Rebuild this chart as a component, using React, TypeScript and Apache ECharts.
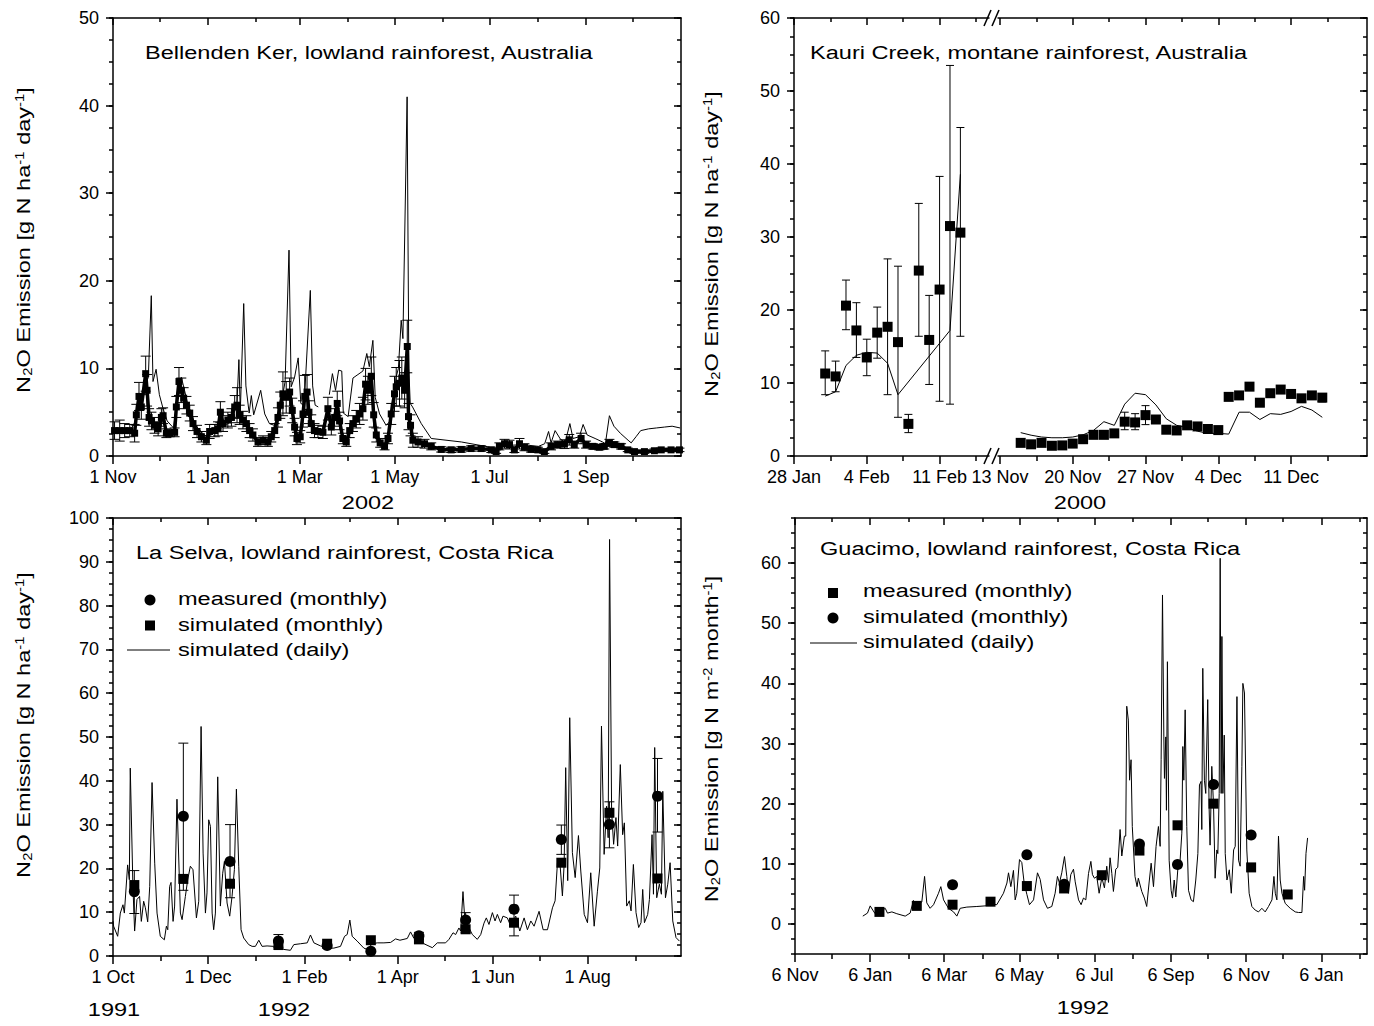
import React, { useEffect, useRef } from "react";
import * as echarts from "echarts";

const FONT = '"Liberation Sans", Arial, Helvetica, sans-serif';
const TICKFONT = FONT;
const TICKSIZE = 18;
const STRETCH = 1.24;

// ---------------- Panel A: Bellenden Ker (days since 1 Nov 2001) ----------------
const bkXTicks = [0, 61, 120, 181, 242, 304];
const bkXLabels = ["1 Nov", "1 Jan", "1 Mar", "1 May", "1 Jul", "1 Sep"];
const bkXMinor = [30, 92, 151, 212, 273, 334];
const bkYTicks = [0, 10, 20, 30, 40, 50];

const bkMeasDays = [1.0, 4.3, 7.5, 10.8, 13.9, 15.0, 16.7, 18.2, 21.0, 21.9, 23.2, 24.7, 26.7, 29.0, 31.1, 32.2, 34.3, 36.4, 39.6, 40.7, 42.4, 43.9, 45.4, 47.2, 49.3, 51.4, 54.0, 56.8, 60.0, 62.1, 65.4, 67.5, 69.0, 70.7, 73.8, 76.1, 78.2, 79.7, 81.4, 83.5, 85.7, 87.8, 89.9, 93.2, 96.4, 99.5, 101.7, 103.9, 106.0, 107.5, 109.2, 111.3, 113.5, 115.2, 116.7, 118.2, 120.3, 122.1, 123.2, 124.7, 125.9, 127.4, 129.5, 131.7, 134.9, 138.1, 140.3, 142.4, 144.1, 145.6, 147.7, 149.9, 152.1, 154.2, 156.3, 158.5, 160.6, 162.3, 163.8, 166.0, 167.5, 169.2, 171.7, 174.5, 176.7, 178.8, 180.9, 182.0, 184.1, 185.6, 187.4, 189.1, 189.9, 191.2, 192.7, 196.0, 200.2, 204.5, 210.9, 217.3, 223.8, 230.1, 236.6, 243.1, 246.2, 248.3, 251.6, 254.8, 257.9, 261.2, 264.4, 268.6, 273.0, 277.2, 281.5, 285.7, 290.1, 293.2, 296.4, 300.8, 304.0, 308.3, 312.5, 315.7, 319.0, 322.2, 326.5, 330.8, 335.1, 341.5, 347.9, 352.3, 358.6, 364.0];
const bkMeasVals = [2.9, 2.9, 2.9, 2.9, 2.6, 4.7, 6.8, 5.6, 9.4, 7.5, 4.4, 4.0, 3.5, 3.1, 4.4, 4.6, 2.6, 2.6, 2.7, 5.6, 8.5, 7.5, 6.6, 5.8, 4.9, 3.7, 2.8, 2.2, 1.8, 2.8, 2.9, 3.1, 5.0, 3.7, 4.1, 4.4, 5.6, 5.8, 4.7, 4.1, 3.7, 2.9, 2.4, 1.6, 1.8, 1.6, 2.2, 2.9, 4.4, 5.8, 7.1, 6.7, 7.3, 5.2, 3.3, 2.0, 2.2, 4.8, 6.8, 7.3, 5.0, 3.7, 2.9, 2.8, 2.7, 5.4, 3.3, 4.4, 6.0, 4.0, 2.0, 1.6, 2.9, 3.7, 4.2, 4.8, 5.4, 8.2, 7.5, 9.1, 4.7, 2.4, 1.5, 1.1, 2.0, 4.8, 7.1, 7.9, 8.3, 8.9, 7.5, 12.5, 4.5, 3.5, 1.8, 1.6, 1.4, 1.1, 0.75, 0.7, 0.75, 0.85, 0.85, 0.7, 0.5, 1.1, 1.4, 1.3, 0.7, 1.4, 1.0, 0.75, 0.7, 0.5, 1.1, 1.3, 1.35, 1.85, 1.3, 2.0, 1.3, 1.1, 1.0, 1.1, 1.5, 1.3, 1.1, 0.7, 0.5, 0.5, 0.6, 0.7, 0.7, 0.7];
const bkMeasErr = [1.0, 1.2, 0.8, 0.7, 1.0, 1.2, 1.6, 1.4, 2.0, 1.8, 1.0, 1.0, 0.9, 0.8, 1.0, 0.9, 0.5, 0.4, 0.5, 1.2, 1.6, 1.4, 1.2, 1.0, 0.9, 0.8, 0.7, 0.6, 0.5, 0.8, 0.7, 0.8, 1.2, 0.9, 0.9, 1.0, 1.3, 2.0, 1.1, 1.0, 0.9, 0.8, 0.7, 0.5, 0.5, 0.5, 0.6, 0.8, 1.1, 1.5, 2.5, 1.8, 1.6, 1.4, 1.0, 0.7, 0.7, 1.5, 2.4, 2.0, 1.3, 1.0, 0.8, 0.7, 0.7, 1.3, 0.9, 1.0, 1.4, 1.0, 0.6, 0.5, 0.8, 0.9, 1.0, 1.2, 1.3, 1.8, 1.6, 2.2, 1.4, 0.8, 0.5, 0.4, 0.6, 1.2, 2.0, 2.2, 2.6, 2.4, 2.0, 3.0, 1.5, 1.2, 0.8, 0.6, 0.5, 0.4, 0.3, 0.3, 0.3, 0.3, 0.3, 0.3, 0.2, 0.4, 0.5, 0.5, 0.3, 0.6, 0.4, 0.3, 0.3, 0.2, 0.4, 0.4, 0.5, 0.6, 0.4, 0.6, 0.4, 0.3, 0.3, 0.3, 0.4, 0.3, 0.3, 0.2, 0.2, 0.2, 0.2, 0.2, 0.2, 0.2];
const bkSimDaily: [number, number | null][] = [
  [0.5, 2.6], [10.6, 2.8], [14.6, 4.0], [17.6, 6.5], [20.7, 8.0], [22.7, 9.0], [24.6, 18.3], [25.7, 8.5], [27.7, 9.9], [29.8, 7.0],
  [32.2, 5.4], [34.8, 4.0], [38.9, 3.2], [41.9, 7.5], [43.9, 9.0], [48.0, 6.0], [53.0, 3.5], [59.1, 2.3], [66.2, 2.8], [73.2, 3.6],
  [79.3, 4.5], [80.9, 11.0], [81.8, 5.0], [84.0, 17.4], [85.4, 8.0], [87.5, 4.9], [88.9, 6.9], [90.4, 4.7], [94.9, 7.5], [97.5, 4.8],
  [100.5, 3.7], [103.6, 3.5], [107.6, 5.5], [110.6, 8.5], [113.1, 23.5], [114.5, 7.9], [116.7, 9.0], [119.0, 11.2], [120.7, 6.0], [122.8, 5.8],
  [126.8, 18.9], [128.3, 8.0], [129.9, 5.8], [131.9, 5.6], [135.0, null], [139.0, 7.0], [141.0, 9.4], [143.0, 7.5], [145.0, 9.8], [147.0, 9.7],
  [148.0, 4.9], [151.1, 4.5], [154.2, 8.9], [157.4, 9.3], [160.6, 9.7], [163.1, 11.7], [164.7, 10.2], [167.0, 13.2], [168.5, 6.7], [171.3, 4.8],
  [175.5, 3.5], [178.8, 4.1], [181.9, 9.0], [183.4, 10.0], [185.2, 15.5], [186.3, 13.4], [189.0, 41.0], [190.1, 10.0], [191.0, 6.0], [192.5, 5.6],
  [198.1, 3.7], [204.5, 2.0], [223.9, 1.6], [241.0, 1.05], [245.1, 0.85], [253.2, 1.2], [263.3, 1.3], [273.4, 1.1], [277.4, 1.4], [279.9, 2.8],
  [281.5, 1.5], [284.1, 2.9], [287.6, 1.9], [290.6, 1.6], [293.6, 3.7], [295.6, 2.0], [299.7, 2.2], [302.1, 3.6], [304.7, 2.4], [309.8, 2.0],
  [314.6, 1.6], [316.4, 1.4], [319.0, 4.6], [321.9, 3.4], [326.0, 2.6], [331.0, 1.8], [333.0, 1.5], [336.1, 2.2], [339.1, 2.9], [344.2, 3.1],
  [349.2, 3.2], [354.3, 3.3], [359.3, 3.4], [364.4, 3.2],
];

// ---------------- Panel B: Kauri Creek (broken axis) ----------------
const KC_BREAK = 19.8; // axis position of 13 Nov
const kcXTicksJan = [0, 7, 14]; // days since 28 Jan
const kcXLabelsJan = ["28 Jan", "4 Feb", "11 Feb"];
const kcXMinorJan = [3.5, 10.5, 17.5];
const kcXTicksNov = [0, 7, 14, 21, 28]; // days since 13 Nov
const kcXLabelsNov = ["13 Nov", "20 Nov", "27 Nov", "4 Dec", "11 Dec"];
const kcXMinorNov = [3.5, 10.5, 17.5, 24.5, 31.5];
const kcYTicks = [0, 10, 20, 30, 40, 50, 60];

const kcJanDays = [3, 4, 5, 6, 7, 8, 9, 10, 11, 12, 13, 14, 15, 16];
const kcJanMeas = [11.3, 10.9, 20.6, 17.2, 13.5, 16.9, 17.7, 15.6, 4.4, 25.4, 15.9, 22.8, 31.5, 30.6];
const kcJanLo = [8.4, 8.8, 17.3, 13.5, 11.0, 13.4, 8.4, 5.3, 3.2, 16.4, 9.8, 7.5, 7.1, 16.4];
const kcJanHi = [14.4, 13.0, 24.1, 21.0, 16.0, 20.4, 27.0, 26.0, 5.7, 34.6, 22.0, 38.3, 53.5, 45.0];
const kcJanSim: [number, number][] = [[3, 8.2], [4, 8.8], [5, 12.4], [6, 13.8], [7, 14.2], [8, 14.1], [9, 12.7], [10, 8.4], [15, 17.2], [16, 38.6]];

const kcNovDays = [2, 3, 4, 5, 6, 7, 8, 9, 10, 11, 12, 13, 14, 15, 16, 17, 18, 19, 20, 21, 22, 23, 24, 25, 26, 27, 28, 29, 30, 31];
const kcNovMeas = [1.8, 1.6, 1.8, 1.4, 1.45, 1.7, 2.3, 2.9, 2.9, 3.1, 4.7, 4.6, 5.6, 5.0, 3.6, 3.5, 4.2, 4.05, 3.7, 3.55, 8.1, 8.3, 9.5, 7.3, 8.6, 9.1, 8.5, 7.9, 8.3, 8.0];
const kcNovLo = [null, null, null, null, null, null, null, null, null, null, 3.6, 3.6, 4.3, null, null, null, null, null, null, null, null, null, null, 6.8, null, null, null, null, null, 7.4];
const kcNovHi = [null, null, null, null, null, null, null, null, null, null, 6.0, 5.8, 6.9, null, null, null, null, null, null, null, null, null, null, 7.8, null, null, null, null, null, 8.5];
const kcNovSim = [3.2, 2.85, 2.6, 2.5, 2.5, 2.6, 2.9, 3.5, 4.7, 4.2, 7.1, 8.6, 8.4, 7.0, 5.1, 4.2, 3.9, 3.4, 3.1, 3.1, 3.0, 6.0, 6.0, 5.0, 5.8, 5.7, 6.1, 6.8, 6.3, 5.3];

// ---------------- Panel C: La Selva (days since 1 Oct 1991) ----------------
const lsXTicks = [0, 61, 123, 183, 244, 305];
const lsXLabels = ["1 Oct", "1 Dec", "1 Feb", "1 Apr", "1 Jun", "1 Aug"];
const lsXMinor = [31, 92, 152, 213, 274, 336];
const lsYTicks = [0, 10, 20, 30, 40, 50, 60, 70, 80, 90, 100];
const lsDaily: [number, number][] = [
  [0, 8.0], [0.4, 6.8], [3, 4.5], [4.7, 9.8], [6.4, 11.7], [7.3, 9.8], [9.4, 20.8], [10.5, 17.4], [11.1, 42.9], [12.8, 15.9],
  [13.9, 5.7], [15.4, 12.9], [17.1, 13.6], [18.2, 7.9], [19.7, 12.5], [20.8, 11.0], [22.3, 7.8], [23.6, 15.9], [25.1, 39.6], [26.8, 21.2],
  [28.3, 9.8], [30.4, 4.5], [33, 3.7], [34.3, 6.8], [35.2, 6.0], [36.4, 15.9], [37.3, 16.8], [38.6, 7.9], [39.6, 11.4], [41.1, 35.8],
  [43.3, 9.8], [44.4, 8.3], [46.5, 13.6], [48, 17.4], [49.7, 20.5], [51.4, 19.7], [53.6, 8.7], [55.1, 12.5], [56.6, 52.4], [57.9, 23.5],
  [59.4, 9.8], [60.4, 14.4], [61.5, 31.1], [62.6, 29.6], [63.7, 9.8], [64.7, 6.0], [65.8, 9.8], [67.3, 40.9], [69, 11.4], [70.5, 18.9],
  [71.6, 21.6], [73.3, 12.1], [75, 9.1], [76.5, 13.6], [78, 19.7], [79.3, 38.1], [80.8, 20.5], [82.3, 6.0], [84, 4.1], [87.2, 2.6],
  [89.4, 2.2], [91.5, 2.2], [93.7, 3.6], [95.8, 2.2], [99, 2.3], [103.3, 2.2], [106.5, 2.2], [109.8, 1.5], [114, 1.3], [116.2, 2.6],
  [120.5, 2.8], [124.8, 3.0], [126.9, 4.8], [129.1, 3.0], [133.4, 2.3], [137.7, 1.8], [141.9, 1.8], [146.2, 2.2], [148.8, 4.5], [150.5, 4.9],
  [152.2, 8.2], [153.7, 4.5], [156.9, 3.4], [161.2, 1.8], [163.4, 1.5], [166.6, 2.8], [169.8, 3.0], [174.1, 3.0], [178.4, 3.1], [181.6, 3.9],
  [184.4, 3.6], [189.1, 4.0], [191.2, 5.5], [193.4, 4.0], [196.6, 4.2], [199.8, 2.8], [205.2, 1.9], [208.4, 3.0], [213.7, 3.0], [215.9, 3.8],
  [218.5, 5.3], [220.2, 4.9], [222.3, 6.4], [223.4, 5.7], [224.9, 14.7], [226, 8.7], [227.7, 7.2], [230.9, 4.9], [234.1, 3.8], [236.3, 4.9],
  [238.4, 7.5], [239.9, 8.7], [241.6, 7.2], [243.8, 9.9], [245.5, 8.0], [247, 9.5], [249.1, 7.6], [250.6, 9.1], [253.4, 8.7], [255.6, 6.8],
  [258.8, 9.1], [261.4, 5.7], [264.2, 8.7], [266.3, 6.0], [268.5, 8.0], [270.6, 6.8], [273.8, 10.2], [276.4, 6.0], [279.2, 6.0], [282.4, 11.0],
  [284.1, 12.6], [285.6, 21.3], [287.1, 21.7], [288.8, 13.7], [289.9, 20.9], [290.9, 43.0], [292.2, 17.2], [293.5, 54.4], [295.2, 23.6], [297, 17.9],
  [299.1, 27.5], [300.6, 19.4], [302.8, 9.5], [304.9, 7.6], [307, 19.0], [309.2, 6.8], [311.3, 14.8], [312.8, 20.1], [313.9, 52.5], [315.6, 23.2],
  [317.2, 34.2], [318.2, 27.0], [319.1, 95.1], [320.4, 33.1], [321.7, 25.5], [323.2, 31.6], [324.3, 25.1], [326, 43.7], [327.5, 27.7], [328.6, 30.4],
  [330.1, 11.4], [331.8, 12.6], [332.9, 10.3], [334.4, 20.9], [336.1, 9.9], [337.8, 6.5], [339.3, 7.6], [340.4, 15.2], [341.5, 7.6], [343.6, 9.5],
  [344.7, 12.9], [346.4, 27.7], [347.3, 14.1], [348.1, 47.6], [349.4, 13.3], [351.1, 16.4], [352.4, 14.1], [353.3, 37.6], [355, 13.3], [356.5, 16.4],
  [358, 21.3], [359.7, 8.0], [361.8, 4.2], [364, 3.4],
];
const lsMonthDays = [13.7, 45.2, 75.2, 106.3, 137.6, 165.7, 196.6, 226.6, 257.7, 288.1, 319.0, 349.9];
const lsMeasured = [14.7, 31.9, 21.6, 3.4, 2.4, 1.1, 4.6, 8.2, 10.7, 26.6, 30.0, 36.5];
const lsMeasLo = [9.7, 15.0, 13.3, 2.0, null, null, 3.8, 5.3, 4.6, 23.2, 24.7, 28.3];
const lsMeasHi = [19.5, 48.6, 30.0, 4.9, null, null, 5.4, 9.9, 13.9, 29.9, 35.2, 45.1];
const lsSimMonthly = [16.2, 17.6, 16.5, 2.5, 2.8, 3.6, 3.8, 6.1, 7.6, 21.3, 32.7, 17.7];

// ---------------- Panel D: Guacimo (days since 6 Nov 1991) ----------------
const guXTicks = [0, 61, 121, 182, 243, 305, 366, 427];
const guXLabels = ["6 Nov", "6 Jan", "6 Mar", "6 May", "6 Jul", "6 Sep", "6 Nov", "6 Jan"];
const guXMinor = [30, 92, 152, 213, 274, 335, 396, 458];
const guYTicks = [0, 10, 20, 30, 40, 50, 60];
const guDaily: [number, number][] = [
  [55.0, 1.3], [58.8, 1.8], [61.0, 3.0], [63.1, 2.3], [65.0, 1.7], [69.1, 2.0], [73.2, 2.6], [75.0, 1.8], [78.6, 2.0], [82.6, 1.7],
  [89.4, 1.3], [93.4, 1.8], [96.1, 3.9], [98.8, 2.8], [102.9, 3.7], [105.1, 7.9], [106.9, 3.5], [109.6, 2.6], [112.4, 3.2], [116.4, 5.1],
  [118.3, 6.2], [120.5, 4.0], [124.5, 2.6], [128.6, 2.0], [131.3, 1.3], [134.0, 2.6], [139.4, 2.8], [147.5, 2.9], [154.3, 3.0], [158.3, 3.3],
  [163.7, 3.2], [169.1, 5.1], [171.9, 6.8], [173.2, 8.5], [175.1, 6.2], [177.2, 8.9], [178.6, 4.0], [179.9, 5.1], [182.1, 10.7], [184.0, 10.2],
  [185.9, 6.8], [188.1, 4.9], [190.2, 3.2], [193.5, 4.0], [196.7, 8.5], [198.9, 7.4], [201.6, 4.0], [204.8, 2.6], [208.3, 2.9], [211.0, 5.1],
  [212.9, 7.9], [214.5, 6.8], [216.4, 8.5], [218.6, 11.2], [220.5, 7.9], [221.8, 5.1], [223.7, 8.2], [225.9, 9.1], [227.3, 7.0], [230, 4.0],
  [232.1, 3.2], [234, 4.3], [235.9, 4.0], [238.1, 8.4], [240, 10.4], [241.3, 8.2], [242.9, 7.6], [244.8, 7.9], [246.7, 5.1], [248.9, 7.7],
  [251, 6.0], [252.9, 9.6], [254.3, 6.9], [255.6, 11.0], [257, 8.4], [258.3, 5.4], [260.2, 9.1], [261.8, 9.4], [263.7, 15.7], [265.1, 11.3],
  [267.2, 14.6], [268.3, 14.6], [269.1, 36.2], [270.4, 33.9], [271.4, 23.9], [272.6, 27.3], [273.6, 16.2], [275.8, 7.9], [277.5, 6.2], [278.5, 7.6],
  [281.3, 5.4], [283.4, 4.3], [285.3, 2.9], [287.2, 6.8], [288.9, 10.1], [290.8, 6.2], [292.9, 12.9], [294.8, 16.2], [296.2, 12.9], [297, 27.3],
  [298.1, 54.7], [299.2, 31.1], [299.7, 24.2], [300.8, 31.1], [301.3, 18.9], [302.1, 43.6], [303.5, 10.6], [305.1, 5.6], [306.2, 4.3], [307.6, 7.3],
  [308.9, 4.5], [310.5, 9.0], [312.4, 10.6], [313.8, 15.1], [314.6, 29.5], [315.4, 23.9], [316.5, 35.6], [317.8, 16.2], [319.2, 5.6], [321.3, 4.0],
  [323.2, 3.7], [325.1, 7.3], [326.8, 11.7], [328.1, 23.1], [329.4, 23.7], [330, 15.7], [330.8, 42.5], [332.1, 23.9], [333.2, 21.7], [334.8, 37.3],
  [335.9, 19.5], [336.7, 13.1], [338.1, 26.2], [339.5, 19.8], [340.8, 7.6], [342.2, 12.3], [343, 11.7], [344.1, 21.7], [344.9, 60.8], [345.7, 21.7],
  [346.3, 47.8], [347.1, 21.7], [348.2, 31.4], [349, 11.7], [350.4, 7.3], [352.3, 9.0], [353.9, 5.1], [355.8, 12.3], [357.1, 12.9], [358.5, 37.8],
  [359.8, 10.6], [361.1, 9.6], [362.5, 26.2], [363.3, 40.0], [364.6, 38.4], [366.5, 12.3], [368.4, 5.1], [370.6, 2.9], [373.3, 2.3], [376, 2.0],
  [378.7, 2.6], [381.4, 2.0], [384.1, 2.9], [386.9, 4.0], [388.5, 7.9], [389.6, 5.1], [390.9, 4.0], [392.2, 14.6], [393.6, 7.3], [395, 5.1],
  [397.7, 3.4], [401.7, 2.6], [405.8, 2.0], [408.5, 1.9], [411.2, 1.9], [412.6, 7.9], [413.4, 5.6], [414.5, 11.7], [415.8, 14.3],
];
const guMonthDays = [68.5, 98.8, 127.8, 158.6, 188.1, 218.3, 248.9, 279.4, 310.3, 339.5, 370.0, 399.7];
const guMeasured = [2.0, 3.0, 3.2, 3.7, 6.3, 5.9, 8.1, 12.2, 16.4, 20.0, 9.4, 4.9];
const guSimMonthly = [null, null, 6.5, null, 11.5, 6.6, null, 13.3, 9.9, 23.2, 14.8, null];

// ---------------- helpers ----------------
const steps = (a: number, b: number, s: number) => {
  const out: number[] = [];
  for (let v = a; v <= b + 1e-9; v += s) out.push(Math.round(v * 1000) / 1000);
  return out;
};
const BLACK = "#000";
const AXW = 1.5;

function labelFor(ticks: number[], labels: string[]) {
  return (v: number) => {
    let best = -1, bd = 1e9;
    ticks.forEach((t, i) => { const d = Math.abs(t - v); if (d < bd) { bd = d; best = i; } });
    return bd < 0.01 ? labels[best] : "";
  };
}

function xAxesFor(g: number, min: number, max: number, major: number[], minor: number[], labels: string[]) {
  const base = { gridIndex: g, type: "value", min, max, splitLine: { show: false }, minorTick: { show: false } };
  return [
    { ...base, position: "bottom",
      axisLine: { show: true, onZero: false, lineStyle: { color: BLACK, width: AXW } },
      axisTick: { show: true, inside: false, length: 8, customValues: major, lineStyle: { color: BLACK, width: AXW } },
      axisLabel: { show: true, customValues: major, margin: 12, fontSize: TICKSIZE, fontFamily: TICKFONT, color: BLACK, formatter: labelFor(major, labels) } },
    { ...base, position: "bottom",
      axisLine: { show: false, onZero: false },
      axisTick: { show: true, inside: false, length: 5, customValues: minor, lineStyle: { color: BLACK, width: AXW } },
      axisLabel: { show: false } },
    { ...base, position: "top",
      axisLine: { show: true, onZero: false, lineStyle: { color: BLACK, width: AXW } },
      axisTick: { show: true, inside: true, length: 7, customValues: major, lineStyle: { color: BLACK, width: AXW } },
      axisLabel: { show: false } },
    { ...base, position: "top",
      axisLine: { show: false, onZero: false },
      axisTick: { show: true, inside: true, length: 4, customValues: minor, lineStyle: { color: BLACK, width: AXW } },
      axisLabel: { show: false } },
  ];
}

function yAxesFor(g: number, min: number, max: number, major: number[], minor: number[]) {
  const base = { gridIndex: g, type: "value", min, max, splitLine: { show: false }, minorTick: { show: false } };
  const lbl = (v: number) => String(Math.round(v));
  return [
    { ...base, position: "left",
      axisLine: { show: true, onZero: false, lineStyle: { color: BLACK, width: AXW } },
      axisTick: { show: true, inside: false, length: 7, customValues: major, lineStyle: { color: BLACK, width: AXW } },
      axisLabel: { show: true, customValues: major, margin: 14, fontSize: TICKSIZE, fontFamily: TICKFONT, color: BLACK, formatter: lbl } },
    { ...base, position: "left",
      axisLine: { show: false, onZero: false },
      axisTick: { show: true, inside: false, length: 4, customValues: minor, lineStyle: { color: BLACK, width: AXW } },
      axisLabel: { show: false } },
    { ...base, position: "right",
      axisLine: { show: true, onZero: false, lineStyle: { color: BLACK, width: AXW } },
      axisTick: { show: true, inside: true, length: 7, customValues: major, lineStyle: { color: BLACK, width: AXW } },
      axisLabel: { show: false } },
    { ...base, position: "right",
      axisLine: { show: false, onZero: false },
      axisTick: { show: true, inside: true, length: 4, customValues: minor, lineStyle: { color: BLACK, width: AXW } },
      axisLabel: { show: false } },
  ];
}

function errorBars(ai: number, data: number[][], cap: number) {
  return {
    type: "custom", xAxisIndex: ai, yAxisIndex: ai, silent: true, z: 3,
    data, encode: { x: 0, y: [1, 2] },
    renderItem: (_p: any, api: any) => {
      const x = api.value(0);
      const a = api.coord([x, api.value(1)]);
      const b = api.coord([x, api.value(2)]);
      const h = cap / 2;
      const st = { stroke: BLACK, lineWidth: 1 };
      return {
        type: "group",
        children: [
          { type: "line", shape: { x1: a[0], y1: a[1], x2: b[0], y2: b[1] }, style: st },
          { type: "line", shape: { x1: a[0] - h, y1: a[1], x2: a[0] + h, y2: a[1] }, style: st },
          { type: "line", shape: { x1: b[0] - h, y1: b[1], x2: b[0] + h, y2: b[1] }, style: st },
        ],
      };
    },
  };
}

const lineSeries = (ai: number, data: any[], name: string) => ({
  type: "line", name, xAxisIndex: ai, yAxisIndex: ai, data, showSymbol: false, symbol: "none",
  lineStyle: { color: BLACK, width: 1 }, itemStyle: { color: BLACK }, connectNulls: false, z: 2,
});
const scatterSeries = (ai: number, data: any[], name: string, symbol: string, size: number) => ({
  type: "scatter", name, xAxisIndex: ai, yAxisIndex: ai, data, symbol, symbolSize: size,
  itemStyle: { color: BLACK, opacity: 1 }, z: 4,
});

const txt = (text: string, x: number, y: number, align = "left") => ({
  type: "text", x, y, scaleX: STRETCH, z: 100,
  style: { text, fill: BLACK, fontSize: 19, fontFamily: FONT, align, verticalAlign: "middle" },
});
const RICH = {
  r: { fontSize: 19, fontFamily: FONT, fill: BLACK },
  s: { fontSize: 12, fontFamily: FONT, fill: BLACK, verticalAlign: "bottom" },
  p: { fontSize: 12, fontFamily: FONT, fill: BLACK, verticalAlign: "top" },
};
const yName = (text: string, x: number, y: number) => ({
  type: "text", x, y, rotation: Math.PI / 2, scaleX: STRETCH, z: 100,
  style: { text, rich: RICH, fill: BLACK, fontSize: 19, fontFamily: FONT, align: "center", verticalAlign: "middle" },
});
const gl = (x1: number, y1: number, x2: number, y2: number, w = 1.5) => ({
  type: "line", z: 101, shape: { x1, y1, x2, y2 }, style: { stroke: BLACK, lineWidth: w },
});

export default function App() {
  const ref = useRef<HTMLDivElement>(null);
  useEffect(() => {
    if (!ref.current) return;
    const chart = echarts.init(ref.current, null, { renderer: "svg" });

    const grids = [
      { left: 113, top: 18, width: 568, height: 438 },
      { left: 794, top: 18, width: 573, height: 438 },
      { left: 113, top: 518, width: 568, height: 438 },
      { left: 795, top: 518, width: 572, height: 436 },
    ];

    const kcMajor = [...kcXTicksJan, ...kcXTicksNov.map((d) => d + KC_BREAK)];
    const kcMinor = [...kcXMinorJan, ...kcXMinorNov.map((d) => d + KC_BREAK)];
    const kcLabels = [...kcXLabelsJan, ...kcXLabelsNov];

    const xAxis = [
      ...xAxesFor(0, 0, 365, bkXTicks, bkXMinor, bkXLabels),
      ...xAxesFor(1, 0, 55.1, kcMajor, kcMinor, kcLabels),
      ...xAxesFor(2, 0, 365, lsXTicks, lsXMinor, lsXLabels),
      ...xAxesFor(3, 0, 464, guXTicks, guXMinor, guXLabels),
    ];
    const yAxis = [
      ...yAxesFor(0, 0, 50, bkYTicks, steps(0, 50, 2.5)),
      ...yAxesFor(1, 0, 60, kcYTicks, steps(0, 60, 2.5)),
      ...yAxesFor(2, 0, 100, lsYTicks, steps(0, 100, 2.5)),
      ...yAxesFor(3, -5, 67.5, guYTicks, steps(-5, 67.5, 2.5)),
    ];

    const A = 0, B = 4, C = 8, D = 12;
    const series: any[] = [
      // Panel A
      lineSeries(A, bkSimDaily.map(([d, v]) => [d, v === null ? "-" : v]), "simulated (daily)"),
      errorBars(A, bkMeasDays.map((d, i) => [d, bkMeasVals[i] - bkMeasErr[i], bkMeasVals[i] + bkMeasErr[i]]), 10),
      { type: "line", name: "measured", xAxisIndex: A, yAxisIndex: A, data: bkMeasDays.map((d, i) => [d, bkMeasVals[i]]),
        symbol: "rect", symbolSize: 7, showSymbol: true, lineStyle: { color: BLACK, width: 3.5 }, itemStyle: { color: BLACK }, z: 4 },
      // Panel B
      lineSeries(B, kcJanSim, "simulated"),
      lineSeries(B, kcNovDays.map((d, i) => [d + KC_BREAK, kcNovSim[i]]), "simulated"),
      errorBars(B, kcJanDays.map((d, i) => [d, kcJanLo[i], kcJanHi[i]]), 8),
      errorBars(B, kcNovDays.map((d, i) => [d + KC_BREAK, kcNovLo[i], kcNovHi[i]]).filter((r) => r[1] !== null), 8),
      scatterSeries(B, kcJanDays.map((d, i) => [d, kcJanMeas[i]]), "measured", "rect", 10),
      scatterSeries(B, kcNovDays.map((d, i) => [d + KC_BREAK, kcNovMeas[i]]), "measured", "rect", 10),
      // Panel C
      lineSeries(C, lsDaily, "simulated (daily)"),
      errorBars(C, lsMonthDays.map((d, i) => [d, lsMeasLo[i], lsMeasHi[i]]).filter((r) => r[1] !== null), 10),
      scatterSeries(C, lsMonthDays.map((d, i) => [d, lsMeasured[i]]), "measured (monthly)", "circle", 11),
      scatterSeries(C, lsMonthDays.map((d, i) => [d, lsSimMonthly[i]]), "simulated (monthly)", "rect", 10),
      // Panel D
      lineSeries(D, guDaily, "simulated (daily)"),
      scatterSeries(D, guMonthDays.map((d, i) => [d, guMeasured[i]]), "measured (monthly)", "rect", 10),
      scatterSeries(D, guMonthDays.map((d, i) => [d, guSimMonthly[i]]).filter((r) => r[1] !== null), "simulated (monthly)", "circle", 11),
    ];

    const graphic: any[] = [
      txt("Bellenden Ker, lowland rainforest, Australia", 145, 53),
      txt("Kauri Creek, montane rainforest, Australia", 810, 53),
      txt("La Selva, lowland rainforest, Costa Rica", 136, 553),
      txt("Guacimo, lowland rainforest, Costa Rica", 820, 549),
      txt("2002", 368, 503, "center"),
      txt("2000", 1080, 503, "center"),
      txt("1991", 114, 1010, "center"),
      txt("1992", 284, 1010, "center"),
      txt("1992", 1083, 1008, "center"),
      yName("{r|N}{s|2}{r|O Emission [g N ha}{p|-1}{r| day}{p|-1}{r|]}", 24, 240),
      yName("{r|N}{s|2}{r|O Emission [g N ha}{p|-1}{r| day}{p|-1}{r|]}", 712, 244),
      yName("{r|N}{s|2}{r|O Emission [g N ha}{p|-1}{r| day}{p|-1}{r|]}", 24, 725),
      yName("{r|N}{s|2}{r|O Emission [g N m}{p|-2}{r| month}{p|-1}{r|]}", 712, 739),
      // legend C
      { type: "circle", z: 100, shape: { cx: 150, cy: 600, r: 5.5 }, style: { fill: BLACK } },
      { type: "rect", z: 100, shape: { x: 145, y: 620.5, width: 10, height: 10 }, style: { fill: BLACK } },
      gl(127, 650, 170, 650, 1),
      txt("measured (monthly)", 178, 599),
      txt("simulated (monthly)", 178, 624.5),
      txt("simulated (daily)", 178, 649.5),
      // legend D
      { type: "rect", z: 100, shape: { x: 828, y: 588, width: 10, height: 10 }, style: { fill: BLACK } },
      { type: "circle", z: 100, shape: { cx: 833, cy: 618, r: 5.5 }, style: { fill: BLACK } },
      gl(810, 643, 857, 643, 1),
      txt("measured (monthly)", 863, 591),
      txt("simulated (monthly)", 863, 617),
      txt("simulated (daily)", 863, 642),
      // axis break marks in panel B
      { type: "rect", z: 100, shape: { x: 989.5, y: 452, width: 8, height: 8 }, style: { fill: "#fff" } },
      { type: "rect", z: 100, shape: { x: 989.5, y: 14, width: 8, height: 8 }, style: { fill: "#fff" } },
      gl(984, 464, 991, 448), gl(992, 464, 999, 448),
      gl(984, 26, 991, 10), gl(992, 26, 999, 10),
    ];

    chart.setOption({
      animation: false,
      backgroundColor: "#fff",
      grid: grids,
      xAxis,
      yAxis,
      series,
      graphic,
    });
    return () => chart.dispose();
  }, []);
  return <div ref={ref} style={{ position: "fixed", left: 0, top: 0, width: 1374, height: 1026, background: "#fff" }} />;
}
